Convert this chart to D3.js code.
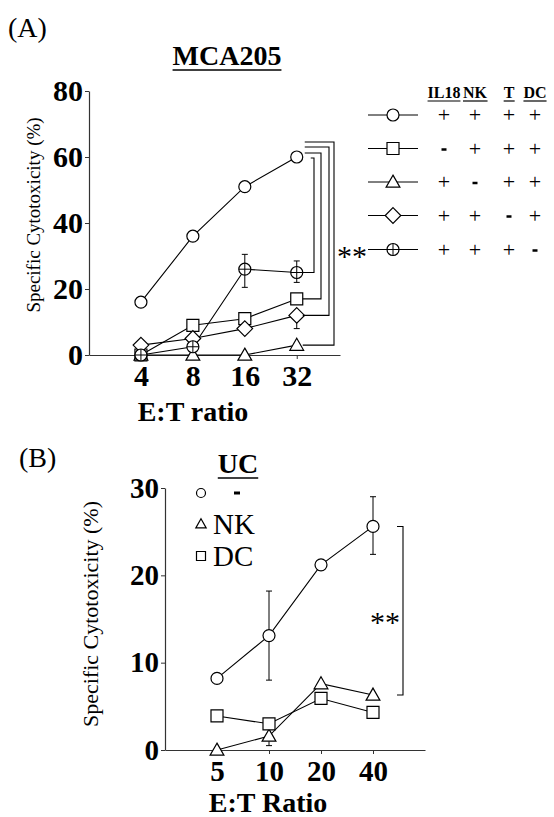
<!DOCTYPE html>
<html>
<head>
<meta charset="utf-8">
<script src="https://cdn.jsdelivr.net/npm/d3@7"></script>
<style>
  body { margin: 0; background: #fff; }
  svg { display: block; font-family: "Liberation Serif", Times, "Times New Roman", serif; }
  svg text { font-family: "Liberation Serif", Times, "Times New Roman", serif; }
</style>
</head>
<body>
<svg id="fig" width="554" height="817"></svg>
<script>
// ---- panel A data (MCA205) ----
var ratiosA = [4, 8, 16, 32];
var yTicksA = [0, 20, 40, 60, 80];
var seriesA = [
  { name: 'all',    shape: 'circle',   values: [16, 36, 51, 60] },
  { name: 'noIL18', shape: 'square',   values: [0, 9, 11, 17] },
  { name: 'noNK',   shape: 'triangle', values: [0, 0, 0, 3] },
  { name: 'noT',    shape: 'diamond',  values: [3, 5, 8, 12] },
  { name: 'noDC',   shape: 'pluscircle', values: [0, 2.5, 26, 25] }
];
// error bars: [series, index, low, high]
var errorsA = [
  ['noDC', 2, 20.5, 30.5],
  ['noDC', 3, 22, 28.5],
  ['noT', 3, 8, 12]
];
var legendHead = ['IL18', 'NK', 'T', 'DC'];
var legendSigns = [
  ['+', '+', '+', '+'],
  ['-', '+', '+', '+'],
  ['+', '-', '+', '+'],
  ['+', '+', '-', '+'],
  ['+', '+', '+', '-']
];
// brackets go from the top curve down to these series at E:T 32
var bracketTargets = ['noNK', 'noT', 'noIL18', 'noDC'];

// ---- panel B data (UC) ----
var ratiosB = [5, 10, 20, 40];
var yTicksB = [0, 10, 20, 30];
var seriesB = [
  { name: 'none', label: '-',  shape: 'circle',   values: [8.2, 13.1, 21.2, 25.6] },
  { name: 'NK',   label: 'NK', shape: 'triangle', values: [0, 1.6, 7.6, 6.3] },
  { name: 'DC',   label: 'DC', shape: 'square',   values: [3.9, 3.0, 5.9, 4.3] }
];
var errorsB = [
  ['none', 1, 8, 18.2],
  ['none', 3, 22.4, 29],
  ['NK', 1, 0.5, 1.6]
];

var FONT = '"Liberation Serif", Times, "Times New Roman", serif';
var svg = d3.select('#fig');

// marker paths, s = half size
function shapePath(type, s) {
  var p = d3.path();
  if (type === 'circle' || type === 'pluscircle') {
    p.moveTo(s, 0); p.arc(0, 0, s, 0, 2 * Math.PI);
  } else if (type === 'square') {
    p.rect(-s, -s, 2 * s, 2 * s);
  } else if (type === 'triangle') {
    var h = s * 1.15;
    p.moveTo(0, -h); p.lineTo(h, h * 0.75); p.lineTo(-h, h * 0.75); p.closePath();
  } else if (type === 'diamond') {
    var d = s * 1.3;
    p.moveTo(0, -d); p.lineTo(d, 0); p.lineTo(0, d); p.lineTo(-d, 0); p.closePath();
  }
  return p.toString();
}
function drawMarker(g, type, x, y, s) {
  g.append('path')
    .attr('d', shapePath(type, s))
    .attr('transform', 'translate(' + x + ',' + y + ')')
    .style('fill', '#fff').style('stroke', '#000').style('stroke-width', 1.2);
  if (type === 'pluscircle') {
    g.append('path')
      .attr('d', 'M' + (x - s) + ',' + y + 'H' + (x + s) + 'M' + x + ',' + (y - s) + 'V' + (y + s))
      .style('stroke', '#000').style('stroke-width', 1);
  }
}
function underline(g, textSel, dy, w) {
  var b = textSel.node().getBBox();
  g.append('line')
    .attr('x1', b.x).attr('x2', b.x + b.width)
    .attr('y1', dy).attr('y2', dy)
    .style('stroke', '#000').style('stroke-width', w);
}
function styleAxis(g, size) {
  g.select('.domain').style('stroke', '#333').style('stroke-width', 1.2);
  g.selectAll('line').style('stroke', '#333');
  g.selectAll('text')
    .style('font-family', FONT)
    .style('font-weight', 700)
    .style('font-size', size + 'px')
    .style('fill', '#000');
}
function errorBars(g, errs, series, x, y, xs) {
  errs.forEach(function(e) {
    var cx = x(xs[e[1]]);
    g.append('line')
      .attr('x1', cx).attr('x2', cx)
      .attr('y1', y(e[2])).attr('y2', y(e[3]))
      .style('stroke', '#000').style('stroke-width', 1);
    [e[2], e[3]].forEach(function(v) {
      g.append('line')
        .attr('x1', cx - 3).attr('x2', cx + 3)
        .attr('y1', y(v)).attr('y2', y(v))
        .style('stroke', '#000').style('stroke-width', 1);
    });
  });
}

// ================= panel A =================
var gA = svg.append('g');
var xA = d3.scaleLog().base(2).domain([2, 57]).range([89, 340]);
var yA = d3.scaleLinear().domain([0, 80]).range([355, 91]);

gA.append('text').text('(A)')
  .attr('x', 8).attr('y', 37)
  .style('font-size', '28px');

var titleA = gA.append('text').text('MCA205')
  .attr('x', 227).attr('y', 65)
  .attr('text-anchor', 'middle')
  .style('font-size', '28px').style('font-weight', 700);
underline(gA, titleA, 70, 1.6);

var yAxisA = d3.axisLeft(yA).tickValues(yTicksA).tickSize(4).tickSizeOuter(0).tickPadding(2);
gA.append('g').attr('transform', 'translate(89,0)').call(yAxisA).call(styleAxis, 30);
var xAxisA = d3.axisBottom(xA).tickValues(ratiosA).tickSize(4).tickSizeOuter(0)
  .tickFormat(d3.format('d')).tickPadding(6);
gA.append('g').attr('transform', 'translate(0,355)').call(xAxisA).call(styleAxis, 30);

gA.append('text').text('E:T ratio')
  .attr('x', 193).attr('y', 421)
  .attr('text-anchor', 'middle')
  .style('font-size', '28px').style('font-weight', 700);
gA.append('text').text('Specific Cytotoxicity (%)')
  .attr('transform', 'translate(40,215) rotate(-90)')
  .attr('text-anchor', 'middle')
  .style('font-size', '19px');

var lineA = d3.line()
  .x(function(d, i) { return xA(ratiosA[i]); })
  .y(function(d) { return yA(d); });
seriesA.forEach(function(s) {
  gA.append('path').attr('d', lineA(s.values))
    .style('fill', 'none').style('stroke', '#000').style('stroke-width', 1.1);
});
errorBars(gA, errorsA, seriesA, xA, yA, ratiosA);
seriesA.forEach(function(s) {
  s.values.forEach(function(v, i) {
    drawMarker(gA, s.shape, xA(ratiosA[i]), yA(v), 6);
  });
});

// significance brackets (nested)
var topY = yA(seriesA[0].values[3]);
var bx0 = xA(32) + 8;
bracketTargets.forEach(function(name, k) {
  var s = seriesA.filter(function(d) { return d.name === name; })[0];
  var vx = 334 - [0, 5, 13, 20][k];
  var ty = topY - [15, 10, 4, -1][k];
  var by = yA(s.values[3]);
  gA.append('path')
    .attr('d', 'M' + (k === 3 ? bx0 + 6 : bx0) + ',' + ty + 'H' + vx + 'V' + by + 'H' + (xA(32) + 6))
    .style('fill', 'none').style('stroke', '#000').style('stroke-width', 1.1);
});
gA.append('text').text('**')
  .attr('x', 352).attr('y', 266)
  .attr('text-anchor', 'middle')
  .style('font-size', '30px').style('fill', '#000');

// legend table
var headX = [444, 475, 509, 535];
var rowY = [115, 148.5, 182, 215.5, 249.5];
headX.forEach(function(x, j) {
  var t = gA.append('text').text(legendHead[j])
    .attr('x', x).attr('y', 98)
    .attr('text-anchor', 'middle')
    .style('font-size', '16px').style('font-weight', 700);
  underline(gA, t, 101, 1.2);
});
seriesA.forEach(function(s, i) {
  var y = rowY[i];
  gA.append('line').attr('x1', 368).attr('x2', 418).attr('y1', y).attr('y2', y)
    .style('stroke', '#000').style('stroke-width', 1);
  drawMarker(gA, s.shape, 393, y, 6);
  legendSigns[i].forEach(function(sign, j) {
    if (sign === '+') {
      gA.append('text').text('+')
        .attr('x', headX[j]).attr('y', y + 7)
        .attr('text-anchor', 'middle')
        .style('font-size', '22px').style('fill', '#000');
    } else {
      gA.append('line')
        .attr('x1', headX[j] - 2.5).attr('x2', headX[j] + 2.5)
        .attr('y1', y + 1).attr('y2', y + 1)
        .style('stroke', '#000').style('stroke-width', 2.5);
    }
  });
});

// ================= panel B =================
var gB = svg.append('g');
var xB = d3.scaleLog().base(2).domain([2.5, 80]).range([165, 425]);
var yB = d3.scaleLinear().domain([0, 30]).range([750, 488]);

gB.append('text').text('(B)')
  .attr('x', 19).attr('y', 467)
  .style('font-size', '28px');

var yAxisB = d3.axisLeft(yB).tickValues(yTicksB).tickSize(4).tickSizeOuter(0).tickPadding(2);
gB.append('g').attr('transform', 'translate(165,0)').call(yAxisB).call(styleAxis, 29);
var xAxisB = d3.axisBottom(xB).tickValues(ratiosB).tickSize(4).tickSizeOuter(0)
  .tickFormat(d3.format('d')).tickPadding(6);
gB.append('g').attr('transform', 'translate(0,750)').call(xAxisB).call(styleAxis, 29);

gB.append('text').text('E:T Ratio')
  .attr('x', 268).attr('y', 812)
  .attr('text-anchor', 'middle')
  .style('font-size', '28px').style('font-weight', 700);
gB.append('text').text('Specific Cytotoxicity (%)')
  .attr('transform', 'translate(98,614) rotate(-90)')
  .attr('text-anchor', 'middle')
  .style('font-size', '22px');

var lineB = d3.line()
  .x(function(d, i) { return xB(ratiosB[i]); })
  .y(function(d) { return yB(d); });
seriesB.forEach(function(s) {
  gB.append('path').attr('d', lineB(s.values))
    .style('fill', 'none').style('stroke', '#000').style('stroke-width', 1.1);
});
errorBars(gB, errorsB, seriesB, xB, yB, ratiosB);
seriesB.forEach(function(s) {
  s.values.forEach(function(v, i) {
    drawMarker(gB, s.shape, xB(ratiosB[i]), yB(v), 6);
  });
});

// bracket B
var bTop = yB(seriesB[0].values[3]);
var bBot = yB(seriesB[1].values[3]);
gB.append('path')
  .attr('d', 'M' + (xB(40) + 24) + ',' + bTop + 'H' + 403 + 'V' + bBot + 'H' + (xB(40) + 24))
  .style('fill', 'none').style('stroke', '#000').style('stroke-width', 1.1);
gB.append('text').text('**')
  .attr('x', 385).attr('y', 632)
  .attr('text-anchor', 'middle')
  .style('font-size', '30px').style('fill', '#000');

// legend B
var ucT = gB.append('text').text('UC')
  .attr('x', 238).attr('y', 473)
  .attr('text-anchor', 'middle')
  .style('font-size', '28px').style('font-weight', 700);
underline(gB, ucT, 478, 1.6);
var legRowB = [493, 524, 556];
seriesB.forEach(function(s, i) {
  drawMarker(gB, s.shape, 201, legRowB[i], 4.5);
  if (s.label === '-') {
    gB.append('line').attr('x1', 234).attr('x2', 240)
      .attr('y1', legRowB[i]).attr('y2', legRowB[i])
      .style('stroke', '#000').style('stroke-width', 3);
  } else {
    gB.append('text').text(s.label)
      .attr('x', 213).attr('y', legRowB[i] + 10)
      .style('font-size', '29px');
  }
});
</script>
</body>
</html>
